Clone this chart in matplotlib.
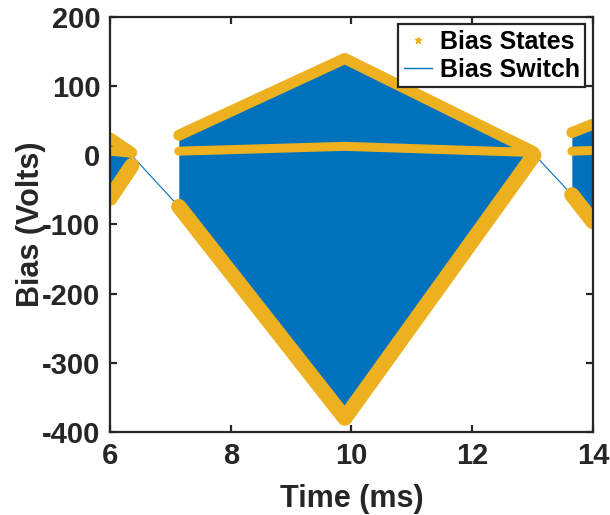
import matplotlib
matplotlib.use("Agg")
import matplotlib.pyplot as plt
from matplotlib.lines import Line2D

# ---- data (time in ms, bias in volts) ----
# left segment (tail of previous pulse)
seg1_t = [6.0, 6.36]
seg1_upper = [25, 4]
seg1_mid = [6, 3]
seg1_lower = [-62, -15]

# main pulse
seg2_t = [7.14, 9.89, 13.02]
seg2_upper = [29, 140, 5]
seg2_mid = [6, 13, 4]
seg2_lower = [-74, -380, 0]

# right segment (start of next pulse)
seg3_t = [13.65, 14.0]
seg3_upper = [33, 45]
seg3_mid = [6, 7]
seg3_lower = [-57, -96]

# switch transitions between pulses
gap_t = [[6.36, 7.14], [13.02, 13.65]]
gap_v = [[0, -74], [2, -57]]

x_ticks = [6, 8, 10, 12, 14]
y_ticks = [-400, -300, -200, -100, 0, 100, 200]

BLUE = "#0072BD"
ORANGE = "#EDB120"
DARK = "#262626"

plt.rcParams["font.family"] = ["Liberation Sans", "DejaVu Sans"]
plt.rcParams["font.weight"] = "bold"

fig = plt.figure(figsize=(6.10, 5.15), dpi=100)
ax = fig.add_axes([0.1803, 0.1612, 0.7918, 0.8058])

segments = [
    (seg1_t, seg1_upper, seg1_mid, seg1_lower),
    (seg2_t, seg2_upper, seg2_mid, seg2_lower),
    (seg3_t, seg3_upper, seg3_mid, seg3_lower),
]

for t, up, mid, lo in segments:
    ax.fill_between(t, lo, up, color=BLUE, lw=0, zorder=2)

for gt, gv in zip(gap_t, gap_v):
    ax.plot(gt, gv, color=BLUE, lw=0.8, zorder=2)

for t, up, mid, lo in segments:
    ax.plot(t, up, color=ORANGE, lw=8, solid_capstyle="round", zorder=3)
    ax.plot(t, mid, color=ORANGE, lw=6.5, solid_capstyle="round", zorder=3)
    ax.plot(t, lo, color=ORANGE, lw=11, solid_capstyle="round", zorder=3)

ax.set_xlim(6, 14)
ax.set_ylim(-400, 200)
ax.set_xticks(x_ticks)
ax.set_yticks(y_ticks)
ax.set_xticklabels([str(v) for v in x_ticks])
ax.set_yticklabels([str(v) for v in y_ticks])

for s in ax.spines.values():
    s.set_linewidth(1.6)
    s.set_color(DARK)
    s.set_zorder(5)

ax.tick_params(direction="in", length=5, width=1.6, colors=DARK,
               labelsize=21, top=True, right=True, pad=7)
for lab in ax.get_xticklabels() + ax.get_yticklabels():
    lab.set_fontweight("bold")

ax.set_xlabel("Time (ms)", fontsize=22, fontweight="bold", color=DARK, labelpad=10)
ax.set_ylabel("Bias (Volts)", fontsize=22, fontweight="bold", color=DARK, labelpad=-3)

handles = [
    Line2D([], [], ls="none", marker="*", color=ORANGE, markersize=5),
    Line2D([], [], color=BLUE, lw=1),
]
leg = ax.legend(handles, ["Bias States", "Bias Switch"], loc="upper right",
                prop={"size": 18, "weight": "bold"}, frameon=True, fancybox=False,
                handlelength=1.15, handletextpad=0.3, borderpad=0.22,
                labelspacing=0.15, borderaxespad=0.3)
leg.get_frame().set_edgecolor(DARK)
leg.get_frame().set_linewidth(1.6)
leg.get_frame().set_alpha(1)
leg.set_zorder(6)

fig.savefig("out.png", dpi=100)
